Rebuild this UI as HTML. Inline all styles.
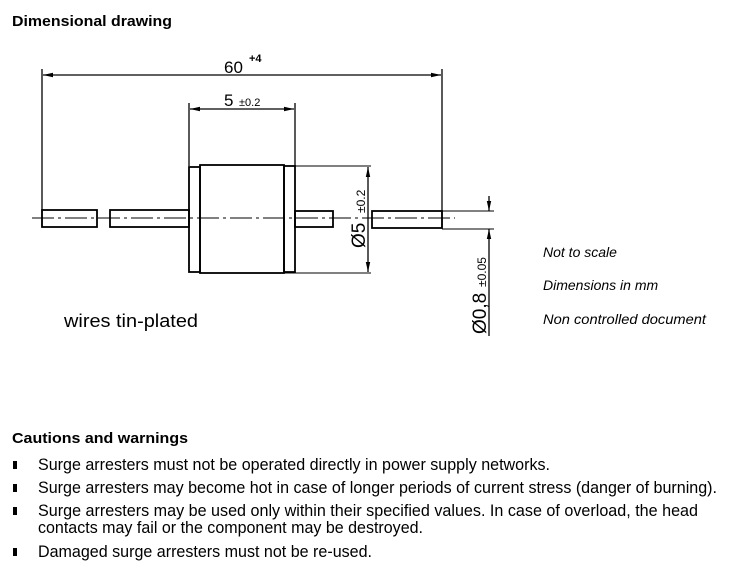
<!DOCTYPE html>
<html><head><meta charset="utf-8"><style>
html,body{margin:0;padding:0;background:#fff;}
svg{display:block;}
text{font-family:"Liberation Sans",sans-serif;fill:#000;}
</style></head><body>
<svg width="735" height="573" viewBox="0 0 735 573" xmlns="http://www.w3.org/2000/svg">
<defs>
<marker id="a" viewBox="0 0 10 6" refX="10" refY="3" markerWidth="10" markerHeight="6" markerUnits="userSpaceOnUse" orient="auto-start-reverse"><path d="M0,0.8 L10,3 L0,5.2 Z" fill="#000"/></marker>
</defs>
<text x="12" y="26" font-size="15" font-weight="bold" textLength="160" lengthAdjust="spacingAndGlyphs">Dimensional drawing</text>
<g stroke="#000" fill="none" stroke-width="1.3">
<line x1="42" y1="69" x2="42" y2="227"/>
<line x1="442" y1="69" x2="442" y2="227"/>
<line x1="43" y1="75" x2="441" y2="75" marker-start="url(#a)" marker-end="url(#a)"/>
<line x1="189" y1="103" x2="189" y2="166"/>
<line x1="295" y1="103" x2="295" y2="166"/>
<line x1="190" y1="109" x2="294" y2="109" marker-start="url(#a)" marker-end="url(#a)"/>
<rect x="189" y="167" width="11" height="105" stroke-width="1.8"/>
<rect x="200" y="165" width="84" height="108" stroke-width="1.8"/>
<rect x="284" y="166" width="11" height="106" stroke-width="1.8"/>
<rect x="42" y="210" width="55" height="17" stroke-width="1.8"/>
<rect x="110" y="210" width="79" height="17" stroke-width="1.8"/>
<rect x="295" y="211" width="38" height="16" stroke-width="1.8"/>
<rect x="372" y="211" width="70" height="17" stroke-width="1.8"/>
<line x1="32" y1="218" x2="455" y2="218" stroke-width="1" stroke-dasharray="22,4,3,4"/>
<line x1="295" y1="166" x2="371" y2="166" stroke-width="1"/>
<line x1="284" y1="273" x2="371" y2="273" stroke-width="1"/>
<line x1="368" y1="167" x2="368" y2="272" marker-start="url(#a)" marker-end="url(#a)"/>
<line x1="442" y1="211" x2="494" y2="211" stroke-width="1"/>
<line x1="442" y1="229" x2="494" y2="229" stroke-width="1"/>
<line x1="489" y1="196" x2="489" y2="211" marker-end="url(#a)"/>
<line x1="489" y1="336" x2="489" y2="229" marker-end="url(#a)"/>
</g>
<text x="224" y="73" font-size="17">60</text>
<text x="249" y="62" font-size="11" font-weight="bold">+4</text>
<text x="224" y="106" font-size="17">5</text>
<text x="239" y="106" font-size="11">±0.2</text>
<text transform="translate(365,248) rotate(-90)" font-size="19">Ø5</text>
<text transform="translate(365,213) rotate(-90)" font-size="12">±0.2</text>
<text transform="translate(486,334) rotate(-90)" font-size="19">Ø0,8</text>
<text transform="translate(486,287) rotate(-90)" font-size="12">±0.05</text>
<text x="64" y="327" font-size="18" textLength="134" lengthAdjust="spacingAndGlyphs">wires tin-plated</text>
<text x="543" y="257" font-size="14" font-style="italic">Not to scale</text>
<text x="543" y="290" font-size="14" font-style="italic">Dimensions in mm</text>
<text x="543" y="324" font-size="14" font-style="italic" textLength="163" lengthAdjust="spacingAndGlyphs">Non controlled document</text>
<text x="12" y="443" font-size="15" font-weight="bold" textLength="176" lengthAdjust="spacingAndGlyphs">Cautions and warnings</text>
<g font-size="17">
<rect x="13" y="461" width="4" height="8"/>
<text x="38" y="470" textLength="512" lengthAdjust="spacingAndGlyphs">Surge arresters must not be operated directly in power supply networks.</text>
<rect x="13" y="484" width="4" height="8"/>
<text x="38" y="493" textLength="679" lengthAdjust="spacingAndGlyphs">Surge arresters may become hot in case of longer periods of current stress (danger of burning).</text>
<rect x="13" y="507" width="4" height="8"/>
<text x="38" y="516" textLength="660" lengthAdjust="spacingAndGlyphs">Surge arresters may be used only within their specified values. In case of overload, the head</text>
<text x="38" y="533" textLength="385" lengthAdjust="spacingAndGlyphs">contacts may fail or the component may be destroyed.</text>
<rect x="13" y="548" width="4" height="8"/>
<text x="38" y="557" textLength="334" lengthAdjust="spacingAndGlyphs">Damaged surge arresters must not be re-used.</text>
</g>
</svg>
</body></html>
